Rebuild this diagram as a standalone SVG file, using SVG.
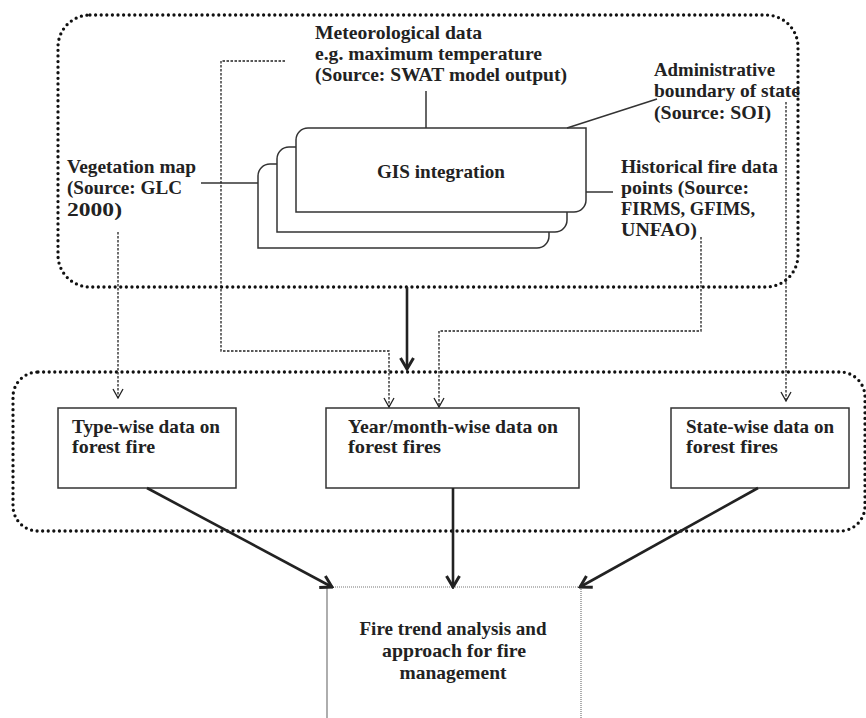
<svg xmlns="http://www.w3.org/2000/svg" width="866" height="718" viewBox="0 0 866 718">
<defs>
<style>
.t{font-family:"Liberation Serif","Times New Roman",serif;font-weight:bold;font-size:19.5px;fill:#222}
.c{text-anchor:middle}
.dot{fill:none;stroke:#111;stroke-width:3.3;stroke-dasharray:0 5.6;stroke-linecap:round}
.box{fill:#fff;stroke:#333;stroke-width:1.5}
.card{fill:#fff;stroke:#333;stroke-width:1.5}
.sol{fill:none;stroke:#333;stroke-width:1.5}
.dash{fill:none;stroke:#222;stroke-width:1.3;stroke-dasharray:2.5 1.5}
.thick{fill:none;stroke:#222;stroke-width:2.6}
</style>
<marker id="ah" markerUnits="userSpaceOnUse" viewBox="0 0 12 12" refX="11" refY="6" markerWidth="12" markerHeight="12" orient="auto">
<path d="M2,1 L11,6 L2,11" fill="none" stroke="#222" stroke-width="1.3"/>
</marker>
<marker id="ahb" markerUnits="userSpaceOnUse" viewBox="0 0 16 16" refX="14" refY="8" markerWidth="16" markerHeight="16" orient="auto">
<path d="M3,1.5 L14,8 L3,14.5" fill="none" stroke="#222" stroke-width="3"/>
</marker>
</defs>
<rect width="866" height="718" fill="#fff"/>

<g id="containers">
<rect class="dot" x="58" y="15" width="740" height="272" rx="32" ry="32"/>
<rect class="dot" x="13" y="372" width="852" height="159" rx="25" ry="25"/>
</g>

<g id="gis">
<path class="card" d="M258,248 V176 A12,12 0 0 1 270,164 H549 V236 A12,12 0 0 1 537,248 Z"/>
<path class="card" d="M277,232 V159 A12,12 0 0 1 289,147 H567 V220 A12,12 0 0 1 555,232 Z"/>
<path class="card" d="M296,212 V140 A12,12 0 0 1 308,128 H586 V200 A12,12 0 0 1 574,212 Z"/>
<text class="t c" x="441" y="178" textLength="128" lengthAdjust="spacingAndGlyphs">GIS integration</text>
</g>

<g id="meteo">
<text class="t" x="315" y="39" textLength="167" lengthAdjust="spacingAndGlyphs">Meteorological data</text>
<text class="t" x="315" y="60" textLength="227" lengthAdjust="spacingAndGlyphs">e.g. maximum temperature</text>
<text class="t" x="315" y="81" textLength="252" lengthAdjust="spacingAndGlyphs">(Source: SWAT model output)</text>
</g>

<g id="admin">
<text class="t" x="654" y="76" textLength="121" lengthAdjust="spacingAndGlyphs">Administrative</text>
<text class="t" x="654" y="97" textLength="146" lengthAdjust="spacingAndGlyphs">boundary of state</text>
<text class="t" x="654" y="119" textLength="117" lengthAdjust="spacingAndGlyphs">(Source: SOI)</text>
</g>

<g id="historical">
<text class="t" x="621" y="173" textLength="157" lengthAdjust="spacingAndGlyphs">Historical fire data</text>
<text class="t" x="621" y="194" textLength="128" lengthAdjust="spacingAndGlyphs">points (Source:</text>
<text class="t" x="621" y="215" textLength="134" lengthAdjust="spacingAndGlyphs">FIRMS, GFIMS,</text>
<text class="t" x="621" y="236" textLength="76" lengthAdjust="spacingAndGlyphs">UNFAO)</text>
</g>

<g id="vegetation">
<text class="t" x="67" y="173" textLength="129" lengthAdjust="spacingAndGlyphs">Vegetation map</text>
<text class="t" x="67" y="194" textLength="115" lengthAdjust="spacingAndGlyphs">(Source: GLC</text>
<text class="t" x="67" y="216" textLength="55" lengthAdjust="spacingAndGlyphs">2000)</text>
</g>

<g id="typewise">
<rect class="box" x="58" y="408" width="178" height="80"/>
<text class="t" x="72" y="433" textLength="148" lengthAdjust="spacingAndGlyphs">Type-wise data on</text>
<text class="t" x="72" y="453" textLength="83" lengthAdjust="spacingAndGlyphs">forest fire</text>
</g>

<g id="yearwise">
<rect class="box" x="326" y="408" width="253" height="80"/>
<text class="t" x="348" y="433" textLength="210" lengthAdjust="spacingAndGlyphs">Year/month-wise data on</text>
<text class="t" x="348" y="453" textLength="93" lengthAdjust="spacingAndGlyphs">forest fires</text>
</g>

<g id="statewise">
<rect class="box" x="671" y="408" width="178" height="80"/>
<text class="t" x="686" y="433" textLength="148" lengthAdjust="spacingAndGlyphs">State-wise data on</text>
<text class="t" x="686" y="453" textLength="92" lengthAdjust="spacingAndGlyphs">forest fires</text>
</g>

<g id="analysis">
<line x1="327" y1="587" x2="581" y2="587" stroke="#777" stroke-width="1.2" stroke-dasharray="1 1"/>
<line x1="327" y1="587" x2="327" y2="718" stroke="#777" stroke-width="1.2"/>
<line x1="581" y1="587" x2="581" y2="718" stroke="#777" stroke-width="1.2" stroke-dasharray="1 1"/>
<text class="t c" x="453" y="635" textLength="187" lengthAdjust="spacingAndGlyphs">Fire trend analysis and</text>
<text class="t c" x="454" y="657" textLength="144" lengthAdjust="spacingAndGlyphs">approach for fire</text>
<text class="t c" x="453" y="679" textLength="107" lengthAdjust="spacingAndGlyphs">management</text>
</g>

<g id="connectors">
<line class="sol" x1="426" y1="91" x2="426" y2="128"/>
<line class="sol" x1="567" y1="128" x2="657" y2="99"/>
<line class="sol" x1="201" y1="183" x2="258" y2="183"/>
<line class="sol" x1="586" y1="192" x2="613" y2="192"/>
<path class="dash" d="M118,232 V398" marker-end="url(#ah)"/>
<path class="dash" d="M285,61 H221 V351 H389 V407" marker-end="url(#ah)"/>
<path class="dash" d="M701,237 V331 H439 V407" marker-end="url(#ah)"/>
<path class="dash" d="M786,102 V401" marker-end="url(#ah)"/>
<path class="thick" d="M407,287 V369" marker-end="url(#ahb)"/>
<path class="thick" d="M147,488 L332,587" marker-end="url(#ahb)"/>
<path class="thick" d="M453,488 L453,587" marker-end="url(#ahb)"/>
<path class="thick" d="M758,488 L580,587" marker-end="url(#ahb)"/>
</g>
</svg>
